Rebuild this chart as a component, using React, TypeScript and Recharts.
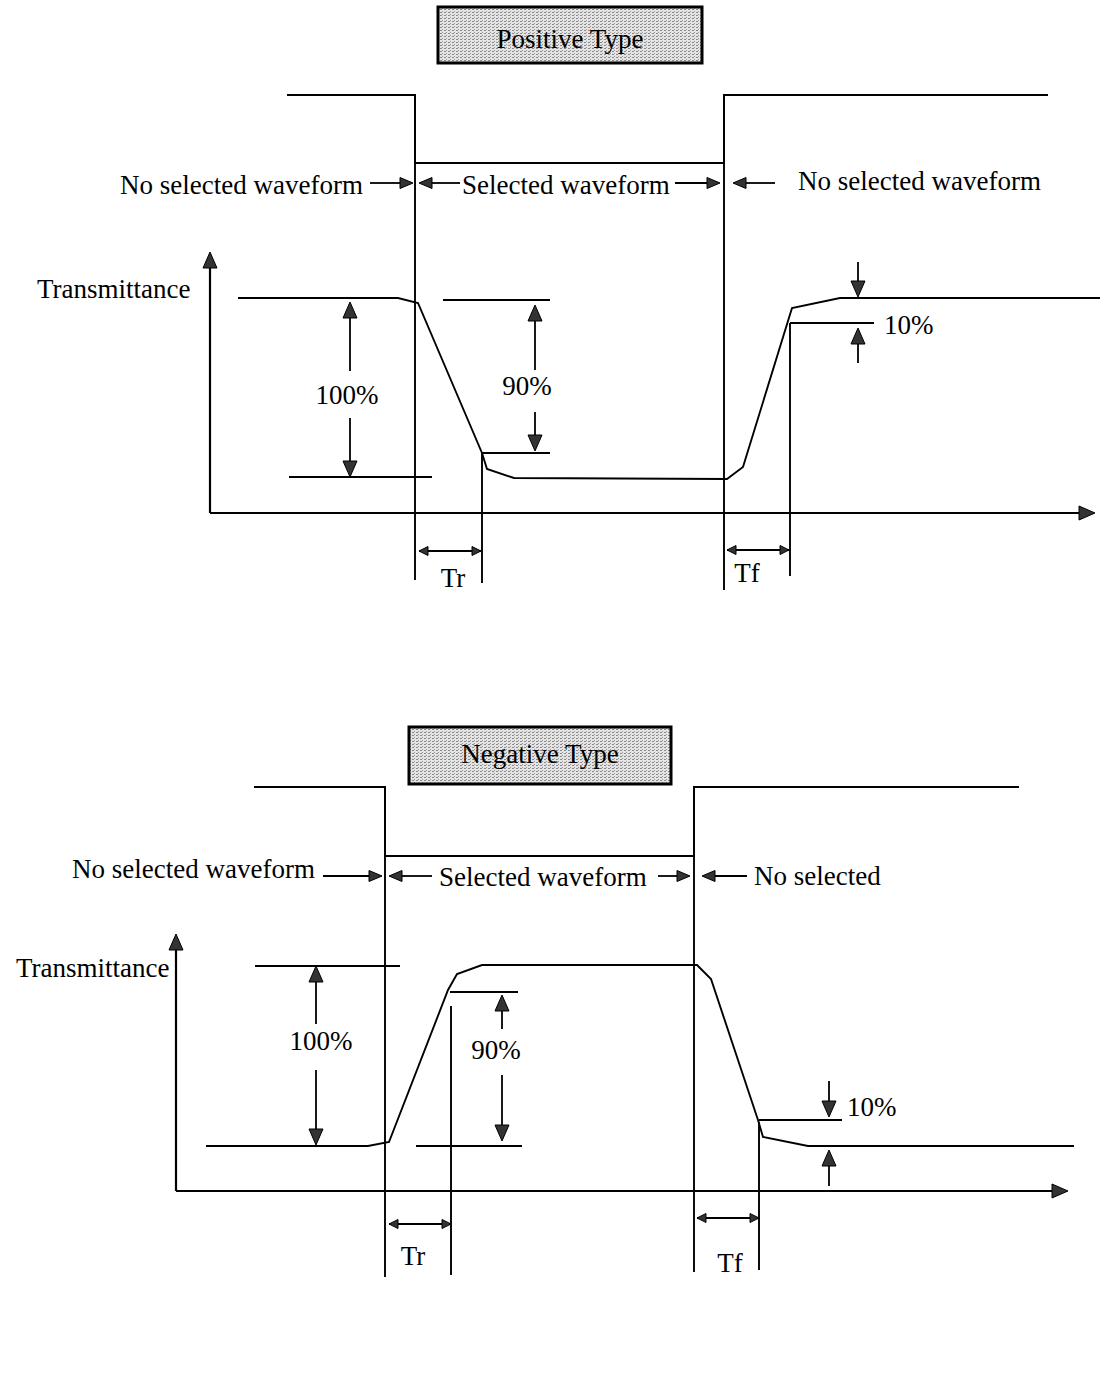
import React from 'react'
import { ComposedChart, Line, ReferenceArea, Scatter, XAxis, YAxis } from 'recharts'

type P = { x: number; y: number }
const pts = (arr: number[][]): P[] => arr.map(([x, y]) => ({ x, y }))

// ---- Positive type (upper diagram) ----
const posSquare = pts([[287, 95], [415, 95], [415, 163], [724, 163], [724, 95], [1048, 95]])
const posWave = pts([[238, 298], [398, 298], [418, 303], [482, 453], [487, 469], [514, 478], [727, 479], [743, 467], [792, 308], [840, 298], [1100, 298]])
const posGuides = [
  [[415, 163], [415, 580]],
  [[482, 453], [482, 583]],
  [[724, 163], [724, 590]],
  [[790, 323], [790, 576]],
  [[289, 477], [432, 477]],
  [[443, 300], [550, 300]],
  [[482, 453], [550, 453]],
  [[790, 323], [874, 323]],
]
const posAxes = [
  [[210, 513], [210, 262]],
  [[210, 513], [1082, 513]],
]
const posShafts = [
  [[350, 371], [350, 315]],
  [[350, 418], [350, 465]],
  [[535, 370], [535, 318]],
  [[535, 412], [535, 439]],
  [[858, 262], [858, 285]],
  [[858, 363], [858, 340]],
  [[419, 551], [481, 551]],
  [[727, 550], [789, 550]],
  [[370, 183], [402, 183]],
  [[430, 183], [460, 183]],
  [[675, 183], [708, 183]],
  [[745, 183], [775, 183]],
]
const posBigHeads = [
  { x: 210, y: 252, dir: 'up' },
  { x: 1095, y: 513, dir: 'right' },
  { x: 350, y: 302, dir: 'up' },
  { x: 350, y: 477, dir: 'down' },
  { x: 535, y: 305, dir: 'up' },
  { x: 535, y: 451, dir: 'down' },
  { x: 858, y: 297, dir: 'down' },
  { x: 858, y: 328, dir: 'up' },
]
const posMidHeads = [
  { x: 413, y: 183, dir: 'right' },
  { x: 419, y: 183, dir: 'left' },
  { x: 720, y: 183, dir: 'right' },
  { x: 733, y: 183, dir: 'left' },
]
const posSmallHeads = [
  { x: 419, y: 551, dir: 'left' },
  { x: 481, y: 551, dir: 'right' },
  { x: 727, y: 550, dir: 'left' },
  { x: 789, y: 550, dir: 'right' },
]
const posLabels = [
  { x: 570, y: 48, text: 'Positive Type', anchor: 'middle' },
  { x: 363, y: 194, text: 'No selected waveform', anchor: 'end' },
  { x: 462, y: 194, text: 'Selected waveform', anchor: 'start' },
  { x: 798, y: 190, text: 'No selected waveform', anchor: 'start' },
  { x: 37, y: 298, text: 'Transmittance', anchor: 'start' },
  { x: 347, y: 404, text: '100%', anchor: 'middle' },
  { x: 527, y: 395, text: '90%', anchor: 'middle' },
  { x: 884, y: 334, text: '10%', anchor: 'start' },
  { x: 453, y: 587, text: 'Tr', anchor: 'middle' },
  { x: 747, y: 582, text: 'Tf', anchor: 'middle' },
]

// ---- Negative type (lower diagram) ----
const negSquare = pts([[254, 787], [385, 787], [385, 856], [694, 856], [694, 787], [1019, 787]])
const negWave = pts([[206, 1146], [368, 1146], [389, 1142], [448, 990], [457, 974], [482, 965], [697, 965], [711, 979], [758, 1120], [763, 1137], [808, 1146], [1074, 1146]])
const negGuides = [
  [[385, 856], [385, 1277]],
  [[451, 1006], [451, 1275]],
  [[694, 856], [694, 1272]],
  [[759, 1122], [759, 1270]],
  [[255, 966], [400, 966]],
  [[450, 992], [518, 992]],
  [[416, 1146], [522, 1146]],
  [[759, 1120], [842, 1120]],
]
const negAxes = [
  [[176, 1191], [176, 944]],
  [[176, 1191], [1055, 1191]],
]
const negShafts = [
  [[316, 1024], [316, 978]],
  [[316, 1070], [316, 1133]],
  [[502, 1029], [502, 1007]],
  [[502, 1075], [502, 1129]],
  [[829, 1081], [829, 1105]],
  [[829, 1186], [829, 1162]],
  [[389, 1224], [451, 1224]],
  [[697, 1218], [759, 1218]],
  [[323, 876], [370, 876]],
  [[400, 876], [432, 876]],
  [[658, 876], [678, 876]],
  [[714, 876], [747, 876]],
]
const negBigHeads = [
  { x: 176, y: 934, dir: 'up' },
  { x: 1068, y: 1191, dir: 'right' },
  { x: 316, y: 966, dir: 'up' },
  { x: 316, y: 1145, dir: 'down' },
  { x: 502, y: 995, dir: 'up' },
  { x: 502, y: 1141, dir: 'down' },
  { x: 829, y: 1117, dir: 'down' },
  { x: 829, y: 1150, dir: 'up' },
]
const negMidHeads = [
  { x: 382, y: 876, dir: 'right' },
  { x: 389, y: 876, dir: 'left' },
  { x: 690, y: 876, dir: 'right' },
  { x: 702, y: 876, dir: 'left' },
]
const negSmallHeads = [
  { x: 389, y: 1224, dir: 'left' },
  { x: 451, y: 1224, dir: 'right' },
  { x: 697, y: 1218, dir: 'left' },
  { x: 759, y: 1218, dir: 'right' },
]
const negLabels = [
  { x: 540, y: 763, text: 'Negative Type', anchor: 'middle' },
  { x: 315, y: 878, text: 'No selected waveform', anchor: 'end' },
  { x: 439, y: 886, text: 'Selected waveform', anchor: 'start' },
  { x: 754, y: 885, text: 'No selected', anchor: 'start' },
  { x: 16, y: 977, text: 'Transmittance', anchor: 'start' },
  { x: 321, y: 1050, text: '100%', anchor: 'middle' },
  { x: 496, y: 1059, text: '90%', anchor: 'middle' },
  { x: 847, y: 1116, text: '10%', anchor: 'start' },
  { x: 413, y: 1265, text: 'Tr', anchor: 'middle' },
  { x: 730, y: 1272, text: 'Tf', anchor: 'middle' },
]

const titleBoxes = [
  { x1: 438, x2: 702, y1: 7, y2: 63 },
  { x1: 409, x2: 671, y1: 727, y2: 784 },
]

const DIRS: { [k: string]: number[] } = { up: [0, -1], down: [0, 1], left: [-1, 0], right: [1, 0] }

const arrowHead = (len: number, half: number) => (props: any) => {
  const { cx, cy, payload } = props
  const v = DIRS[payload.dir]
  const bx = cx - v[0] * len
  const by = cy - v[1] * len
  const px = -v[1] * half
  const py = v[0] * half
  return (
    <polygon
      points={`${cx},${cy} ${bx + px},${by + py} ${bx - px},${by - py}`}
      fill="#333"
      stroke="#000"
      strokeWidth={1}
    />
  )
}

const TextMark = (props: any) => {
  const { cx, cy, payload } = props
  return (
    <text x={cx} y={cy} textAnchor={payload.anchor} fontFamily="'Liberation Serif', 'DejaVu Serif', serif" fontSize={27} fill="#000">
      {payload.text}
    </text>
  )
}

const segLines = (name: string, segs: number[][][], width: number) =>
  segs.map((s, i) => (
    <Line
      key={`${name}-${i}`}
      data={pts(s)}
      dataKey="y"
      type="linear"
      stroke="#000"
      strokeWidth={width}
      dot={false}
      activeDot={false}
      isAnimationActive={false}
    />
  ))

export default function App() {
  return (
    <div style={{ position: 'absolute', left: 0, top: 0, background: '#fff' }}>
      <ComposedChart width={1101} height={1373} margin={{ top: 0, right: 0, bottom: 0, left: 0 }}>
        <defs>
          <pattern id="dither" width="4" height="3" patternUnits="userSpaceOnUse">
            <rect width="4" height="3" fill="#e4e4e4" />
            <rect x="0" y="0" width="2" height="1" fill="#8a8a8a" />
            <rect x="2" y="2" width="1" height="1" fill="#9a9a9a" />
          </pattern>
        </defs>
        <XAxis type="number" dataKey="x" domain={[0, 1101]} hide allowDataOverflow />
        <YAxis type="number" dataKey="y" domain={[0, 1373]} reversed hide allowDataOverflow />

        {titleBoxes.map((b, i) => (
          <ReferenceArea key={`box-${i}`} x1={b.x1} x2={b.x2} y1={b.y1} y2={b.y2} fill="#cfcfcf" fillOpacity={1} stroke="none" />
        ))}
        {titleBoxes.map((b, i) => (
          <ReferenceArea key={`boxp-${i}`} x1={b.x1} x2={b.x2} y1={b.y1} y2={b.y2} fill="url(#dither)" fillOpacity={1} stroke="#000" strokeWidth={3} />
        ))}

        <Line data={posSquare} dataKey="y" stroke="#000" strokeWidth={2} dot={false} activeDot={false} isAnimationActive={false} />
        <Line data={posWave} dataKey="y" stroke="#000" strokeWidth={1.9} dot={false} activeDot={false} isAnimationActive={false} />
        {segLines('pg', posGuides, 1.9)}
        {segLines('pa', posAxes, 2.2)}
        {segLines('ps', posShafts, 1.8)}

        <Line data={negSquare} dataKey="y" stroke="#000" strokeWidth={2} dot={false} activeDot={false} isAnimationActive={false} />
        <Line data={negWave} dataKey="y" stroke="#000" strokeWidth={1.9} dot={false} activeDot={false} isAnimationActive={false} />
        {segLines('ng', negGuides, 1.9)}
        {segLines('na', negAxes, 2.2)}
        {segLines('ns', negShafts, 1.8)}

        <Scatter data={[...posBigHeads, ...negBigHeads]} dataKey="y" shape={arrowHead(16, 7)} isAnimationActive={false} />
        <Scatter data={[...posMidHeads, ...negMidHeads]} dataKey="y" shape={arrowHead(13, 5.5)} isAnimationActive={false} />
        <Scatter data={[...posSmallHeads, ...negSmallHeads]} dataKey="y" shape={arrowHead(9, 4.5)} isAnimationActive={false} />
        <Scatter data={[...posLabels, ...negLabels]} dataKey="y" shape={TextMark} isAnimationActive={false} />
      </ComposedChart>
    </div>
  )
}
